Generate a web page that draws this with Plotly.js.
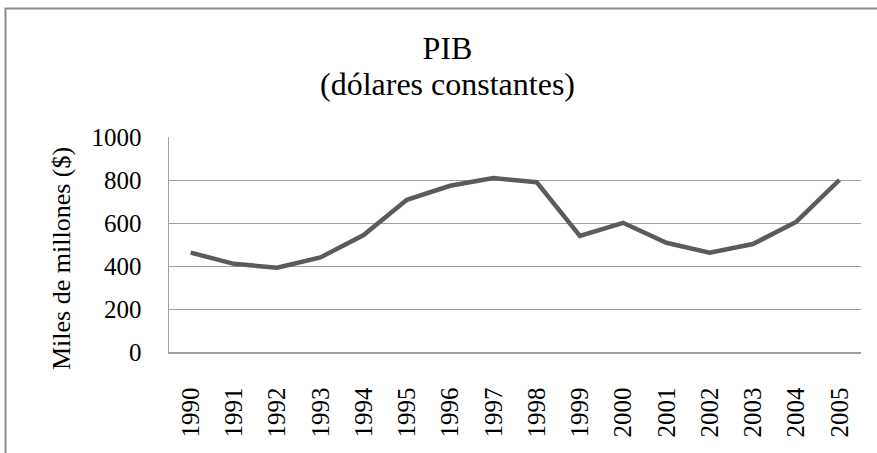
<!DOCTYPE html>
<html>
<head>
<meta charset="utf-8">
<script src="https://cdn.plot.ly/plotly-3.0.1.min.js"></script>
<style>
html,body{margin:0;padding:0;background:#fff;}
#chart{width:877px;height:453px;}
</style>
</head>
<body>
<div id="chart"></div>
<script>
const years = ["1990","1991","1992","1993","1994","1995","1996","1997","1998","1999","2000","2001","2002","2003","2004","2005"];
const pib = [462, 410, 392, 440, 544, 708, 773, 809, 790, 540, 601, 508, 462, 502, 605, 800];
const yTicks = [0, 200, 400, 600, 800, 1000];
const titleText = 'PIB';
const subtitleText = '(dólares constantes)';
const yTitleText = 'Miles de millones ($)';

const FONT = 'Liberation Serif';
const L = 169, R = 861, T = 137, B = 352, W = 877, H = 453;
const px = v => (v - L) / (R - L);
const py = v => (B - v) / (B - T);

const trace = {
  x: years, y: pib, type: 'scatter', mode: 'lines',
  line: {color: '#5b5b5b', width: 4.5},
  hoverinfo: 'x+y'
};

const layout = {
  width: W, height: H,
  margin: {l: L, r: W - R, t: T, b: H - B, pad: 0},
  paper_bgcolor: '#fff', plot_bgcolor: '#fff',
  showlegend: false,
  font: {family: FONT, color: '#000'},
  title: {
    text: titleText,
    font: {family: FONT, size: 32, color: '#000'},
    x: 447.5 / W, xref: 'container', xanchor: 'center',
    y: 1 - 48 / H, yref: 'container', yanchor: 'middle'
  },
  annotations: [
    {text: subtitleText, xref: 'paper', yref: 'paper', x: px(447.5), y: py(84),
     xanchor: 'center', yanchor: 'middle', showarrow: false,
     font: {family: FONT, size: 32, color: '#000'}},
    {text: yTitleText, xref: 'paper', yref: 'paper', x: px(61), y: py(259),
     xanchor: 'center', yanchor: 'middle', showarrow: false, textangle: -90,
     font: {family: FONT, size: 26, color: '#000'}}
  ],
  xaxis: {
    type: 'category',
    range: [-0.5, years.length - 0.5],
    tickangle: -90,
    tickfont: {family: FONT, size: 25, color: '#000'},
    showgrid: false,
    showline: true, linecolor: '#a0a0a0', linewidth: 1.5,
    ticks: '', ticklabelstandoff: 24,
    fixedrange: true
  },
  yaxis: {
    range: [0, 1000],
    tickvals: yTicks,
    ticktext: yTicks.map(String),
    tickfont: {family: FONT, size: 25, color: '#000'},
    showgrid: true, gridcolor: '#a0a0a0', gridwidth: 1,
    showline: true, linecolor: '#a0a0a0', linewidth: 1.5,
    zeroline: false,
    ticks: '', ticklabelstandoff: 21,
    fixedrange: true
  },
  shapes: [{
    type: 'rect', xref: 'paper', yref: 'paper',
    x0: px(5.5), x1: px(W + 10), y0: py(H + 20), y1: py(8.5),
    line: {color: '#8a8a8a', width: 2}, fillcolor: 'rgba(0,0,0,0)', layer: 'above'
  }]
};

Plotly.newPlot('chart', [trace], layout, {displayModeBar: false, staticPlot: true});
</script>
</body>
</html>
